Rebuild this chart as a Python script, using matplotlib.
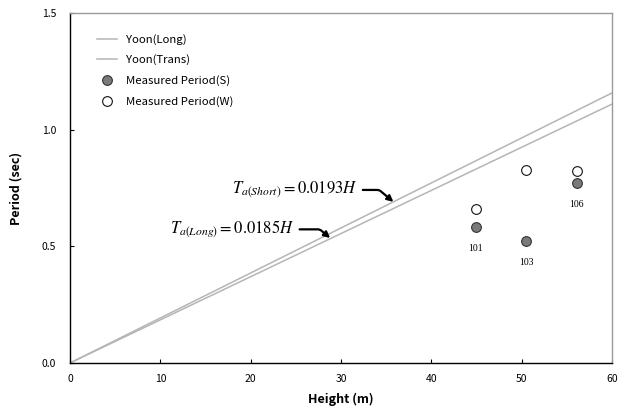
import matplotlib.pyplot as plt
import numpy as np

plt.rcParams['font.family'] = ['Noto Sans CJK KR', 'DejaVu Sans']
plt.rcParams['mathtext.fontset'] = 'stix'

# building heights (m) and measured periods (sec)
buildings = ["101", "103", "106"]
height = [44.9, 50.5, 56.1]
period_s = [0.583, 0.522, 0.770]
period_w = [0.662, 0.827, 0.822]

# code formula coefficients
coef_long = 0.0185
coef_short = 0.0193

h = np.array([0, 60])

fig = plt.figure(figsize=(6.18, 4.12), dpi=100)
ax = fig.add_axes([0.1133, 0.119, 0.877, 0.849])

ax.plot(h, coef_long * h, color="#b5b5b5", lw=1.1, label="Yoon(Long)")
ax.plot(h, coef_short * h, color="#b5b5b5", lw=1.1, label="Yoon(Trans)")
ax.plot(height, period_s, "o", ms=7, mfc="#7a7a7a", mec="#333333", mew=0.8,
        label="Measured Period(S)")
ax.plot(height, period_w, "o", ms=7, mfc="white", mec="#111111", mew=0.8,
        label="Measured Period(W)")

for x, y, name in zip(height, period_s, buildings):
    ax.annotate(name, (x, y), xytext=(0, -12), textcoords="offset points",
                ha="center", va="top", fontsize=7, family="Liberation Serif")

arrow = dict(arrowstyle="-|>", color="black", lw=1.6, mutation_scale=9,
             connectionstyle="angle,angleA=0,angleB=-40,rad=2",
             shrinkA=2, shrinkB=0)
ax.annotate(r"$T_{a(Short)}=0.0193H$", xy=(35.8, coef_short * 35.8),
            xytext=(31.8, 0.742), ha="right", va="center", fontsize=12,
            arrowprops=arrow)
ax.annotate(r"$T_{a(Long)}=0.0185H$", xy=(28.8, coef_long * 28.8 + 0.003),
            xytext=(24.8, 0.573), ha="right", va="center", fontsize=12,
            arrowprops=arrow)

ax.set_xlim(0, 60)
ax.set_ylim(0, 1.5)
ax.set_xticks(range(0, 61, 10))
ax.set_yticks([0.0, 0.5, 1.0, 1.5])
ax.set_yticklabels(["0.0", "0.5", "1.0", "1.5"])
ax.tick_params(axis="both", direction="in", length=3, labelsize=7.5, colors="black")
ax.tick_params(axis="x", pad=8)
ax.tick_params(axis="y", pad=10)

ax.spines["left"].set_color("black")
ax.spines["bottom"].set_color("black")
ax.spines["top"].set_color("#9a9a9a")
ax.spines["right"].set_color("#9a9a9a")
for s in ax.spines.values():
    s.set_linewidth(1.0)

ax.set_xlabel("Height (m)", fontsize=9, fontweight="bold", labelpad=6)
ax.set_ylabel("Period (sec)", fontsize=9, fontweight="bold", labelpad=14)

ax.legend(loc="upper left", frameon=False, fontsize=8.2, handlelength=1.8,
          labelspacing=0.85, bbox_to_anchor=(0.03, 0.97))

fig.savefig("out.png", dpi=100)
